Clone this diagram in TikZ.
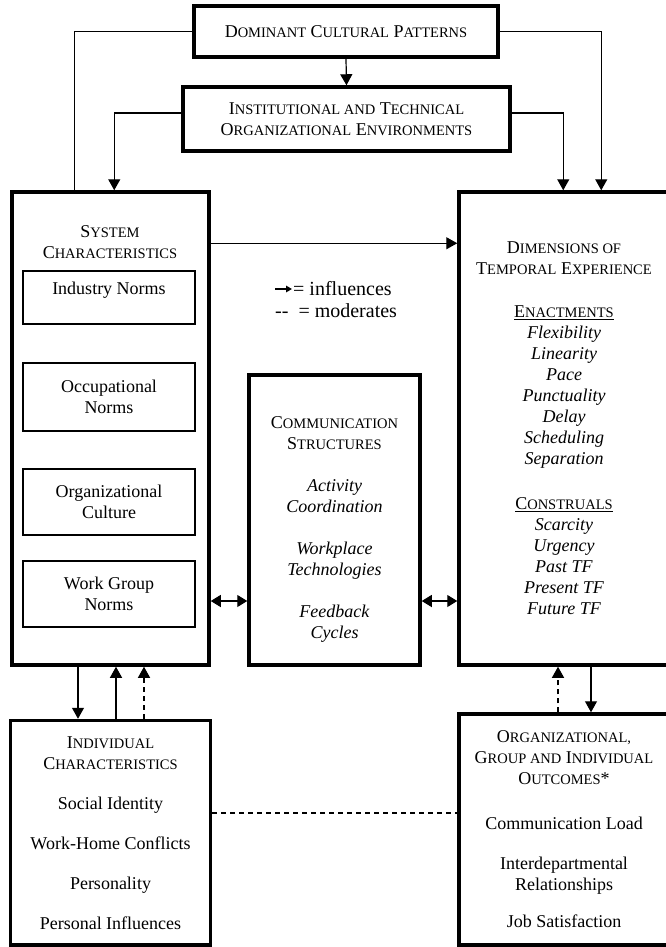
\documentclass[tikz,border=0pt]{standalone}
\usepackage{fontspec}
\setmainfont{Liberation Serif}
\usetikzlibrary{arrows.meta,calc}
\newcommand{\smc}[1]{{\fontsize{14.5pt}{21pt}\selectfont #1}}
\tikzset{
  heavybox/.style={draw,line width=3.5pt,inner sep=0pt,align=center},
  normbox/.style={draw,line width=1.1pt,inner sep=0pt,align=center},
  conn/.style={line width=1.2pt},
  arr/.style={conn,-{Triangle[length=11pt,width=12pt]}},
  twoarr/.style={conn,{Triangle[length=10pt,width=12pt]}-{Triangle[length=10pt,width=12pt]}},
  modarr/.style={arr,dash pattern=on 5pt off 4pt},
  modline/.style={conn,dash pattern=on 5pt off 4pt}
}

\begin{document}
\begin{tikzpicture}[x=1pt,y=-1pt,font=\fontsize{18pt}{21pt}\selectfont]
  \useasboundingbox (0,0) rectangle (665,947);
  % environment boxes
  \node[heavybox,minimum width=304pt,minimum height=51pt] (dom) at (346,31.5)
     {D\smc{OMINANT} C\smc{ULTURAL} P\smc{ATTERNS}};
  \node[heavybox,minimum width=327pt,minimum height=64pt] (inst) at (346.5,119)
     {I\smc{NSTITUTIONAL AND} T\smc{ECHNICAL}\\ O\smc{RGANIZATIONAL} E\smc{NVIRONMENTS}};
  % system characteristics
  \node[heavybox,minimum width=197pt,minimum height=473pt] (sys) at (110.5,428.5) {};
  \node[align=center,inner sep=0pt] (systitle) at (110,242.5) {S\smc{YSTEM}\\ C\smc{HARACTERISTICS}};
  \node[normbox,minimum width=172pt,minimum height=53pt,text depth=19pt] (indn) at (109,297.5) {Industry Norms};
  \node[normbox,minimum width=172pt,minimum height=68pt] (occn) at (109,397) {Occupational\\ Norms};
  \node[normbox,minimum width=172pt,minimum height=66pt] (orgc) at (109,502) {Organizational\\ Culture};
  \node[normbox,minimum width=172pt,minimum height=66pt] (wgn) at (109,594) {Work Group\\ Norms};
  % communication structures
  \node[heavybox,minimum width=171pt,minimum height=290pt] (comm) at (334.5,520)
     {\rule{0pt}{30pt}C\smc{OMMUNICATION}\\ S\smc{TRUCTURES}\\[21pt]
      \textit{Activity}\\ \textit{Coordination}\\[21pt]
      \textit{Workplace}\\ \textit{Technologies}\\[21pt]
      \textit{Feedback}\\ \textit{Cycles}};
  % temporal experience
  \node[heavybox,minimum width=210pt,minimum height=473pt] (dim) at (564,428.5)
     {D\smc{IMENSIONS OF}\\ T\smc{EMPORAL} E\smc{XPERIENCE}\\[22pt]
      \underline{E\smc{NACTMENTS}}\\ \textit{Flexibility}\\ \textit{Linearity}\\ \textit{Pace}\\
      \textit{Punctuality}\\ \textit{Delay}\\ \textit{Scheduling}\\ \textit{Separation}\\[24pt]
      \underline{C\smc{ONSTRUALS}}\\ \textit{Scarcity}\\ \textit{Urgency}\\ \textit{Past TF}\\
      \textit{Present TF}\\ \textit{Future TF}};
  % bottom boxes
  \node[heavybox,minimum width=200pt,minimum height=224.5pt] (ind) at (110.5,832.75)
     {I\smc{NDIVIDUAL}\\ C\smc{HARACTERISTICS}\\[19pt] Social Identity\\[19pt]
      Work-Home Conflicts\\[19pt] Personality\\[19pt] Personal Influences};
  \node[heavybox,minimum width=210pt,minimum height=231pt] (out) at (564,829.5)
     {O\smc{RGANIZATIONAL,}\\ G\smc{ROUP AND} I\smc{NDIVIDUAL}\\ O\smc{UTCOMES}*\\[24pt]
      Communication Load\\[19pt] Interdepartmental\\ Relationships\\[16pt] Job Satisfaction};
  % legend
  \node[anchor=west,inner sep=0pt,font=\fontsize{20pt}{23pt}\selectfont] (infl) at (293,289) {= influences};
  \node[anchor=west,inner sep=0pt,font=\fontsize{20pt}{23pt}\selectfont] (modr) at (275,311) {-{}-\ \ = moderates};
  \draw[conn,line width=1.6pt,-{Triangle[length=6pt,width=6.5pt]}] ($(infl.west)+(-18,0)$) -- ([xshift=-1pt]infl.west);
  % connectors
  \coordinate (xa) at (78,0);
  \coordinate (xb) at (116,0);
  \coordinate (xc) at (144,0);
  \coordinate (xd) at (558,0);
  \coordinate (xe) at (591,0);
  \coordinate (lvl) at (0,601);
  \coordinate (ym) at (0,813);
  \draw[arr] (dom.south) -- (inst.north);
  \draw[conn] (dom.west) -| ([xshift=64pt]sys.north west);
  \draw[arr] (dom.east) -| ([xshift=144pt]dim.north west);
  \draw[arr] ([yshift=6pt]inst.west) -| ([xshift=104pt]sys.north west);
  \draw[arr] ([yshift=6pt]inst.east) -| ([xshift=106pt]dim.north west);
  \draw[arr] ([yshift=-53pt]sys.north east) -- ([yshift=-53pt]dim.north west);
  \draw[twoarr] (sys.east |- lvl) -- (comm.west |- lvl);
  \draw[twoarr] (comm.east |- lvl) -- (dim.west |- lvl);
  \draw[arr] (sys.south -| xa) -- (ind.north -| xa);
  \draw[arr] (ind.north -| xb) -- (sys.south -| xb);
  \draw[modarr] (ind.north -| xc) -- (sys.south -| xc);
  \draw[modarr] (out.north -| xd) -- (dim.south -| xd);
  \draw[arr] (dim.south -| xe) -- (out.north -| xe);
  \draw[modline] (ind.east |- ym) -- (out.west |- ym);
\end{tikzpicture}
\end{document}
